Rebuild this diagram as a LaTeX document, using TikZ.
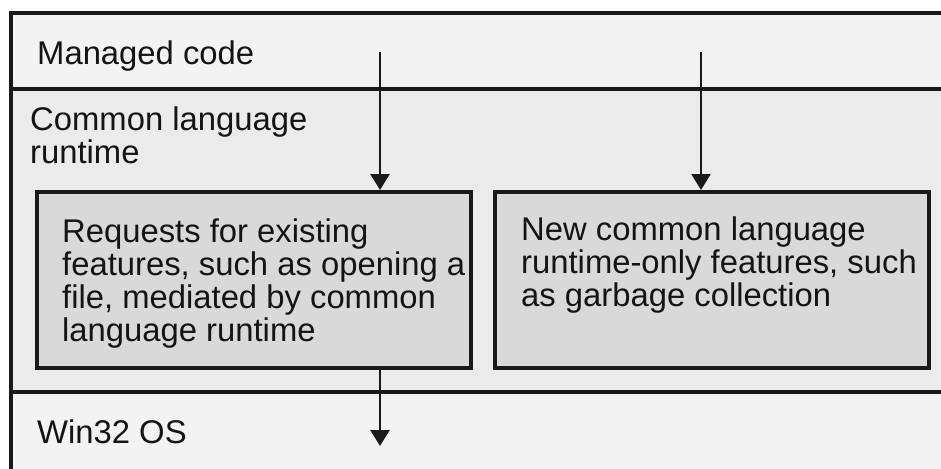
\documentclass[tikz,border=0pt]{standalone}
\usepackage{fontspec}
\setmainfont{Liberation Sans}
\usetikzlibrary{arrows.meta}
\definecolor{bandlight}{HTML}{F3F3F3}
\definecolor{bandmid}{HTML}{EBEBEB}
\definecolor{boxgray}{HTML}{D9D9D9}
\begin{document}
\begin{tikzpicture}[x=1pt,y=-1pt,
  frameline/.style={line width=3.5pt,black!90},
  featurebox/.style={draw=black!90,line width=3.5pt,fill=boxgray,minimum width=434pt,minimum height=176pt,inner sep=0pt},
  label/.style={font=\fontsize{32.8}{33}\selectfont,inner sep=0pt,align=left,text=black!92},
  flow/.style={line width=2.4pt,black!90,-{Triangle[length=16pt,width=19pt]}}]
\useasboundingbox (0,0) rectangle (941,468);
\fill[white] (0,0) rectangle (941,468);
% horizontal layers
\fill[bandlight] (11,13) rectangle (960,89);
\fill[bandmid] (11,89) rectangle (960,392);
\fill[bandlight] (11,392) rectangle (960,480);
\draw[frameline] (11,480) -- (11,13) -- (960,13);
\draw[frameline] (11,89) -- (960,89);
\draw[frameline] (11,392) -- (960,392);
% layer names
\node[label,anchor=base west] (managed) at (37,65) {Managed code};
\node[label,anchor=north west] (clr) at (30,106.5) {Common language\\runtime};
\node[label,anchor=base west] (os) at (37,443) {Win32 OS};
% feature boxes
\node[featurebox,anchor=north west] (req) at (35,190) {};
\node[featurebox,anchor=north west] (new) at (493,190) {};
\node[label,anchor=north west] (reqtext) at (62,218.5) {Requests for existing\\features, such as opening a\\file, mediated by common\\language runtime};
\node[label,anchor=north west] (newtext) at (521,216.5) {New common language\\runtime-only features, such\\as garbage collection};
% calls
\coordinate (callA) at (380,52);
\coordinate (callB) at (701,52);
\coordinate (osend) at (380,446);
\draw[flow] (callA) -- (req.north -| callA);
\draw[flow] (callB) -- (new.north -| callB);
\draw[flow] (req.south -| callA) -- (osend);
\end{tikzpicture}
\end{document}
